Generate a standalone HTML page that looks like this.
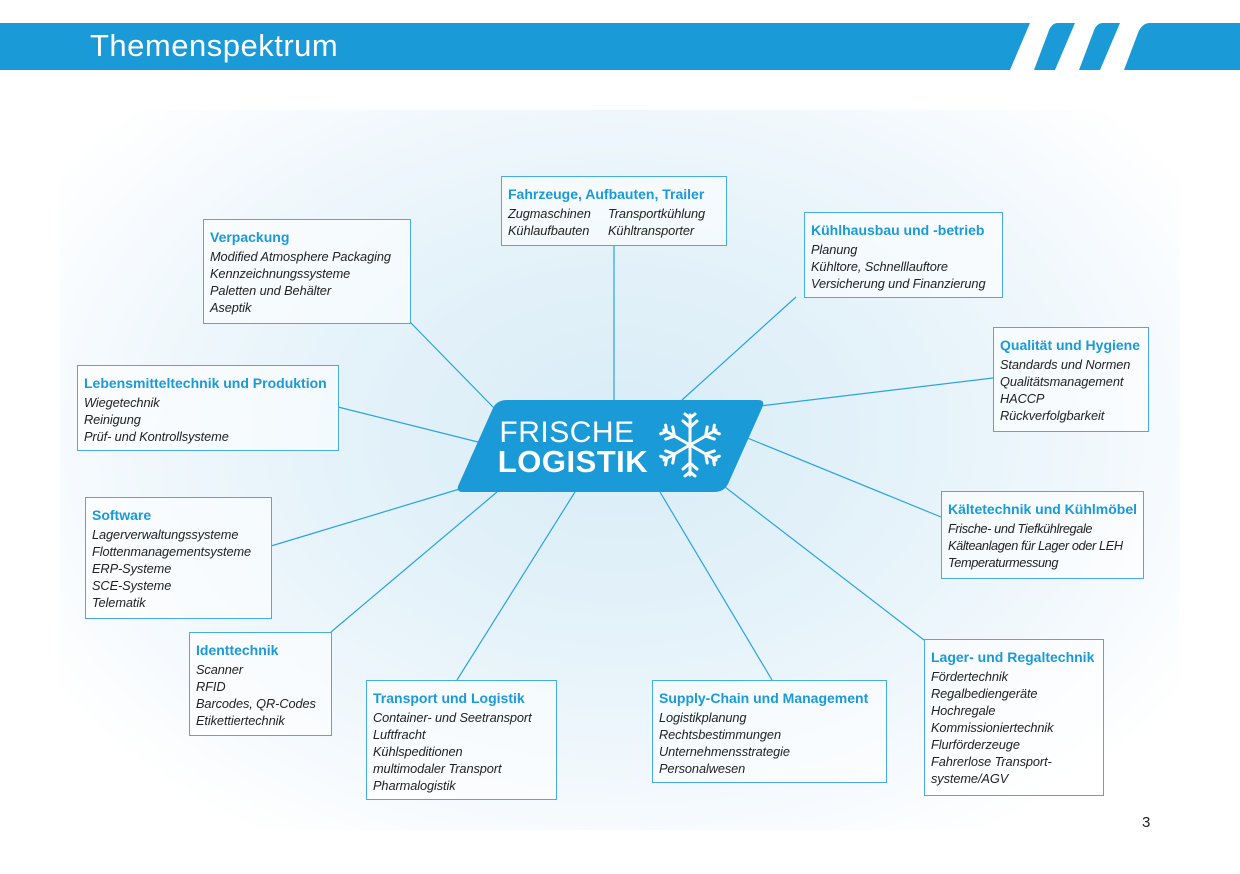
<!DOCTYPE html>
<html><head><meta charset="utf-8"><style>
body{margin:0;width:1240px;height:874px;overflow:hidden;background:#fff;font-family:"Liberation Sans",sans-serif;position:relative}
.bg{position:absolute;left:60px;top:110px;width:1120px;height:720px;background:radial-gradient(ellipse at 50% 45%,#d8ecf7 0%,#e6f3fa 40%,#f3f9fd 65%,#fff 85%)}
.ttl{position:absolute;left:90px;top:28px;color:#fff;font-size:31px;letter-spacing:0.5px}
.b{position:absolute;border:1px solid #45ade3;background:rgba(255,255,255,0.55);padding:8px 6px 6px 6px;box-sizing:border-box;font-size:12.8px;line-height:17px;color:#222;font-style:italic;white-space:nowrap;letter-spacing:-0.1px}
.b h{display:block;font-style:normal;font-weight:bold;color:#1a9ad7;font-size:14px;line-height:18px;margin-bottom:2px;letter-spacing:0}
svg{position:absolute;left:0;top:0}
</style></head><body>
<div class="bg"></div>
<svg width="1240" height="874">
<path d="M0 23 H1030 L1010 70 H0 Z" fill="#1a9ad7"/>
<path d="M1058 23 H1075 L1055 70 H1034 L1048 33 Q1051 23 1058 23 Z" fill="#1a9ad7"/>
<path d="M1103 23 H1120 L1100 70 H1079 L1093 33 Q1096 23 1103 23 Z" fill="#1a9ad7"/>
<path d="M1150 23 H1240 V70 H1124 L1138 33 Q1142 23 1150 23 Z" fill="#1a9ad7"/>
<g stroke="#2aa3e0" stroke-width="1.2">
<line x1="614" y1="245" x2="614" y2="400"/>
<line x1="410" y1="322" x2="494" y2="408"/>
<line x1="796" y1="297" x2="682" y2="400"/>
<line x1="993" y1="378" x2="760" y2="406"/>
<line x1="338" y1="407" x2="478" y2="442"/>
<line x1="941" y1="517" x2="745" y2="437"/>
<line x1="271" y1="546" x2="463" y2="488"/>
<line x1="331" y1="632" x2="497" y2="492"/>
<line x1="457" y1="680" x2="575" y2="492"/>
<line x1="772" y1="680" x2="660" y2="492"/>
<line x1="924" y1="640" x2="725" y2="487"/>
</g>
<path d="M507 400 H758 Q766 400 762 408 L728 484 Q724 492 714 492 H463 Q455 492 459 484 L493 408 Q497 400 507 400 Z" fill="#1a9ad7"/>
<text x="567" y="442" fill="#fff" font-size="30" text-anchor="middle" font-family="Liberation Sans" letter-spacing="0.5">FRISCHE</text>
<text x="573" y="472" fill="#fff" font-size="31" font-weight="bold" text-anchor="middle" font-family="Liberation Sans" letter-spacing="0.5">LOGISTIK</text>
<g stroke="#fff" stroke-width="3" fill="none" stroke-linecap="round" transform="translate(690,445)">
<g id="arm"><line x1="0" y1="0" x2="0" y2="-30"/><polyline points="-7,-24 0,-18 7,-24"/><polyline points="-5,-31 0,-27 5,-31"/></g>
<use href="#arm" transform="rotate(60)"/><use href="#arm" transform="rotate(120)"/><use href="#arm" transform="rotate(180)"/><use href="#arm" transform="rotate(240)"/><use href="#arm" transform="rotate(300)"/>
</g>
</svg>
<div class="ttl">Themenspektrum</div>
<div class="b" style="left:501px;top:176px;width:226px;height:70px"><h>Fahrzeuge, Aufbauten, Trailer</h><span style="display:inline-block;width:100px">Zugmaschinen<br>Kühlaufbauten</span><span style="display:inline-block">Transportkühlung<br>Kühltransporter</span></div>
<div class="b" style="left:203px;top:219px;width:208px;height:105px"><h>Verpackung</h>Modified Atmosphere Packaging<br>Kennzeichnungssysteme<br>Paletten und Behälter<br>Aseptik</div>
<div class="b" style="left:804px;top:212px;width:199px;height:86px"><h>Kühlhausbau und -betrieb</h>Planung<br>Kühltore, Schnelllauftore<br>Versicherung und Finanzierung</div>
<div class="b" style="left:993px;top:327px;width:156px;height:105px"><h>Qualität und Hygiene</h>Standards und Normen<br>Qualitätsmanagement<br>HACCP<br>Rückverfolgbarkeit</div>
<div class="b" style="left:77px;top:365px;width:262px;height:86px"><h>Lebensmitteltechnik und Produktion</h>Wiegetechnik<br>Reinigung<br>Prüf- und Kontrollsysteme</div>
<div class="b" style="left:941px;top:491px;width:203px;height:88px"><h>Kältetechnik und Kühlmöbel</h><span style="letter-spacing:-0.4px">Frische- und Tiefkühlregale<br>Kälteanlagen für Lager oder LEH<br>Temperaturmessung</span></div>
<div class="b" style="left:85px;top:497px;width:187px;height:122px"><h>Software</h>Lagerverwaltungssysteme<br>Flottenmanagementsysteme<br>ERP-Systeme<br>SCE-Systeme<br>Telematik</div>
<div class="b" style="left:189px;top:632px;width:143px;height:104px"><h>Identtechnik</h>Scanner<br>RFID<br>Barcodes, QR-Codes<br>Etikettiertechnik</div>
<div class="b" style="left:366px;top:680px;width:191px;height:120px"><h>Transport und Logistik</h>Container- und Seetransport<br>Luftfracht<br>Kühlspeditionen<br>multimodaler Transport<br>Pharmalogistik</div>
<div class="b" style="left:652px;top:680px;width:235px;height:103px"><h>Supply-Chain und Management</h>Logistikplanung<br>Rechtsbestimmungen<br>Unternehmensstrategie<br>Personalwesen</div>
<div class="b" style="left:924px;top:639px;width:180px;height:157px"><h>Lager- und Regaltechnik</h>Fördertechnik<br>Regalbediengeräte<br>Hochregale<br>Kommissioniertechnik<br>Flurförderzeuge<br>Fahrerlose Transport-<br>systeme/AGV</div>
<div style="position:absolute;left:1142px;top:814px;font-size:15px;color:#222">3</div>
</body></html>
